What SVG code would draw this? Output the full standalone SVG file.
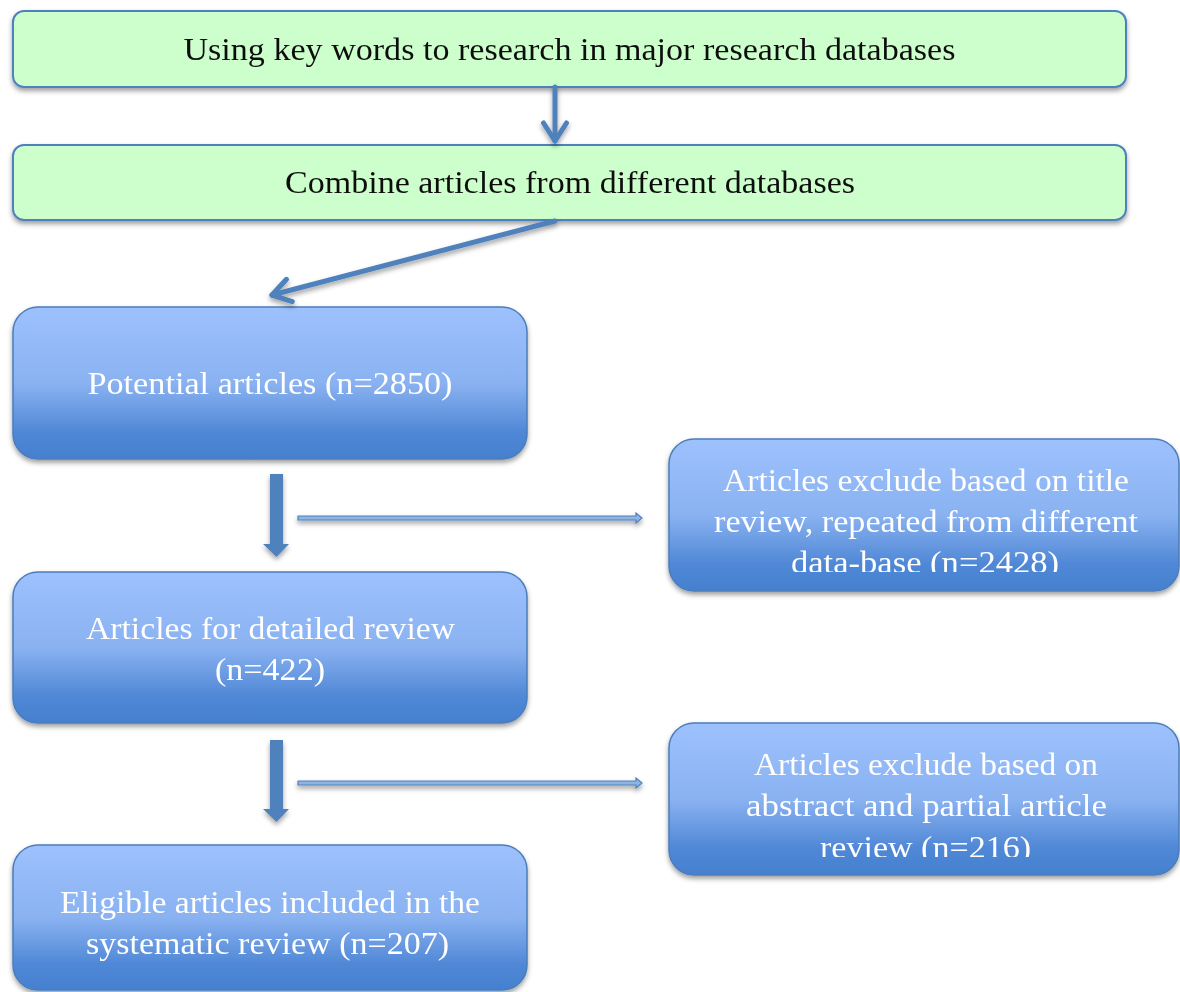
<svg xmlns="http://www.w3.org/2000/svg" width="1180" height="992" viewBox="0 0 1180 992">
<defs>
  <linearGradient id="blueGrad" x1="0" y1="0" x2="0" y2="1">
    <stop offset="0" stop-color="#9dc1fd"/>
    <stop offset="0.5" stop-color="#8ab2f1"/>
    <stop offset="0.82" stop-color="#5088d6"/>
    <stop offset="1" stop-color="#4480cf"/>
  </linearGradient>
  <filter id="shadow" x="-5%" y="-10%" width="110%" height="130%">
    <feDropShadow dx="0" dy="3" stdDeviation="2.5" flood-color="#000" flood-opacity="0.38"/>
  </filter>
  <marker id="chev" markerUnits="userSpaceOnUse" markerWidth="40" markerHeight="40" viewBox="-25 -20 30 40" refX="0" refY="0" orient="auto">
    <path d="M-18,-11.5 L0,0 L-18,11.5" fill="none" stroke="#4f81bd" stroke-width="5" stroke-linecap="round" stroke-linejoin="round"/>
  </marker>
  <clipPath id="clipR1"><rect x="669" y="440" width="511" height="132"/></clipPath>
  <clipPath id="clipR2"><rect x="669" y="724" width="511" height="133"/></clipPath>
</defs>
<style>
  .green { fill: #ccffcc; stroke: #4f81bd; stroke-width: 2; }
  .blue { fill: url(#blueGrad); stroke: #4a7ebb; stroke-width: 1.5; }
  .tb { font-family: "Liberation Serif", "DejaVu Serif", serif; font-size: 32px; fill: #111; text-anchor: middle; }
  .tw { font-family: "Liberation Serif", "DejaVu Serif", serif; font-size: 32px; fill: #ffffff; text-anchor: middle; }
  .line { fill: none; stroke: #4f81bd; stroke-width: 5; stroke-linecap: round; }
  .block { fill: #4f81bd; }
  .thin { fill: #8fb4e3; stroke: #4f81bd; stroke-width: 1.2; }
</style>
<rect width="1180" height="992" fill="#ffffff"/>

<g id="node-search" filter="url(#shadow)">
  <rect class="green" x="13" y="11" width="1113" height="76" rx="11"/>
  <text class="tb" x="569.5" y="60" textLength="772" lengthAdjust="spacingAndGlyphs">Using key words to research in major research databases</text>
</g>
<g id="node-combine" filter="url(#shadow)">
  <rect class="green" x="13" y="145" width="1113" height="75" rx="11"/>
  <text class="tb" x="570" y="193" textLength="570" lengthAdjust="spacingAndGlyphs">Combine articles from different databases</text>
</g>
<g id="node-potential" filter="url(#shadow)">
  <rect class="blue" x="13" y="307" width="514" height="152" rx="25"/>
  <text class="tw" x="270" y="394" textLength="365" lengthAdjust="spacingAndGlyphs">Potential articles (n=2850)</text>
</g>
<g id="node-detailed" filter="url(#shadow)">
  <rect class="blue" x="13" y="572" width="514" height="151" rx="25"/>
  <text class="tw" x="270.5" y="639" textLength="369" lengthAdjust="spacingAndGlyphs">Articles for detailed review</text>
  <text class="tw" x="270" y="680" textLength="110" lengthAdjust="spacingAndGlyphs">(n=422)</text>
</g>
<g id="node-eligible" filter="url(#shadow)">
  <rect class="blue" x="13" y="845" width="514" height="145" rx="25"/>
  <text class="tw" x="270" y="913" textLength="420" lengthAdjust="spacingAndGlyphs">Eligible articles included in the</text>
  <text class="tw" x="267.5" y="954" textLength="363" lengthAdjust="spacingAndGlyphs">systematic review (n=207)</text>
</g>
<g id="node-exclude-title" filter="url(#shadow)">
  <rect class="blue" x="669" y="439" width="510" height="152" rx="25"/>
  <g clip-path="url(#clipR1)">
    <text class="tw" x="926" y="491" textLength="406" lengthAdjust="spacingAndGlyphs">Articles exclude based on title</text>
    <text class="tw" x="926" y="532" textLength="424" lengthAdjust="spacingAndGlyphs">review, repeated from different</text>
    <text class="tw" x="925" y="573" textLength="268" lengthAdjust="spacingAndGlyphs">data-base (n=2428)</text>
  </g>
</g>
<g id="node-exclude-abstract" filter="url(#shadow)">
  <rect class="blue" x="669" y="723" width="510" height="152" rx="25"/>
  <g clip-path="url(#clipR2)">
    <text class="tw" x="926" y="775" textLength="344" lengthAdjust="spacingAndGlyphs">Articles exclude based on</text>
    <text class="tw" x="926.5" y="816" textLength="361" lengthAdjust="spacingAndGlyphs">abstract and partial article</text>
    <text class="tw" x="925.5" y="858" textLength="211" lengthAdjust="spacingAndGlyphs">review (n=216)</text>
  </g>
</g>

<g id="connectors" filter="url(#shadow)">
  <line class="line" x1="555" y1="87" x2="555" y2="141" marker-end="url(#chev)"/>
  <line class="line" x1="555" y1="221" x2="272" y2="295" marker-end="url(#chev)"/>
  <polygon class="block" points="270,474 283,474 283,544 289,544 276.5,557 263,544 270,544"/>
  <polygon class="block" points="270,740 283,740 283,809 289,809 276.5,822 263,809 270,809"/>
  <polygon class="thin" points="298,516 636,516 636,513 642,518 636,523 636,520 298,520"/>
  <polygon class="thin" points="298,781 636,781 636,778 642,783 636,788 636,785 298,785"/>
</g>
</svg>
